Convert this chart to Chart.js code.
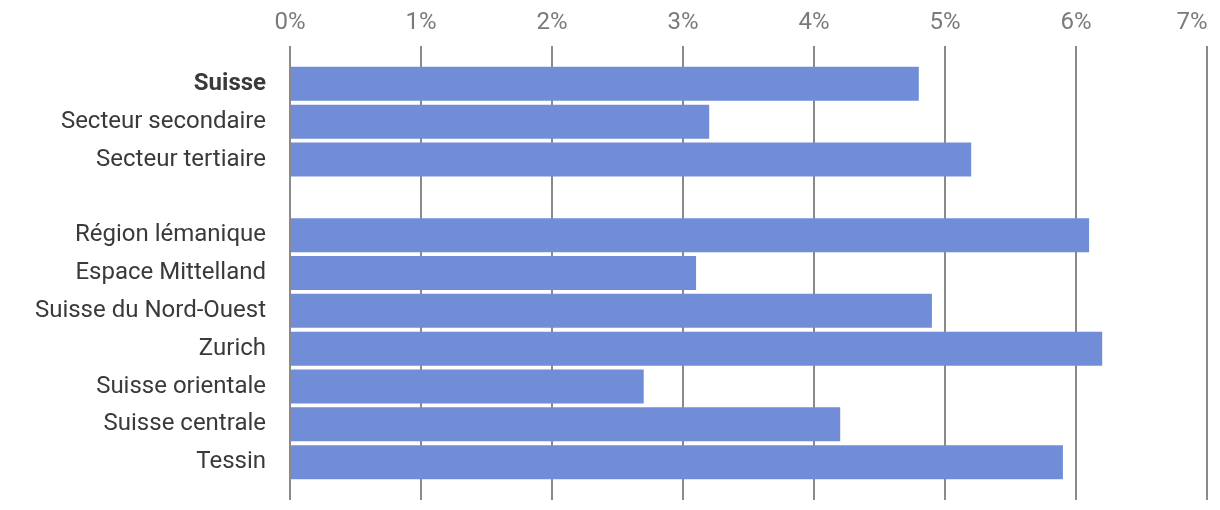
<!DOCTYPE html>
<html>
<head>
<meta charset="utf-8">
<script src="https://cdn.jsdelivr.net/npm/chart.js@4/dist/chart.umd.min.js"></script>
<style>
  html, body { margin: 0; padding: 0; background: #fff; }
  canvas { display: block; }
</style>
</head>
<body>
<canvas id="graphique" width="1220" height="510"></canvas>
<script>
const categories = ["Suisse", "Secteur secondaire", "Secteur tertiaire", "", "Région lémanique",
  "Espace Mittelland", "Suisse du Nord-Ouest", "Zurich", "Suisse orientale", "Suisse centrale", "Tessin"];
const valeurs = [4.8, 3.2, 5.2, null, 6.1, 3.1, 4.9, 6.2, 2.7, 4.2, 5.9];
const ticksX = [0, 1, 2, 3, 4, 5, 6, 7];

// une ligne vide en haut et en bas pour laisser de la marge dans la grille
const labels = ["", ...categories, ""];
const data = [null, ...valeurs, null];
const xMax = ticksX[ticksX.length - 1];

const config = {
    type: "bar",
    data: {
        labels: labels,
        datasets: [{
            data: data,
            backgroundColor: "#728dd7",
            barPercentage: 0.9,
            categoryPercentage: 1
        }]
    },
    options: {
        indexAxis: "y",
        responsive: false,
        animation: false,
        layout: { padding: { left: 0, right: 0, top: 0, bottom: 10 } },
        plugins: { legend: { display: false }, tooltip: { enabled: false } },
        scales: {
            x: {
                position: "top",
                min: ticksX[0],
                max: xMax,
                afterBuildTicks: (scale) => { scale.ticks = ticksX.map(v => ({ value: v })); },
                afterFit: (scale) => {
                    scale.height = 46;
                    scale.paddingLeft = 0;
                    scale.paddingRight = 13;
                },
                border: { display: false },
                grid: { color: "#8a8a8a", lineWidth: 2, drawTicks: false },
                ticks: {
                    padding: 9,
                    color: "#7a7a7a",
                    font: { family: "Roboto", size: 24 },
                    // le dernier libellé est décalé à gauche pour rester dans le cadre
                    callback: (v) => v === xMax ? v + "%     " : v + "%"
                }
            },
            y: {
                offset: false,
                afterFit: (scale) => {
                    scale.width = 290;
                    scale.paddingTop = 0;
                    scale.paddingBottom = 0;
                },
                border: { display: false },
                grid: { display: false },
                ticks: {
                    padding: 16,
                    autoSkip: false,
                    color: "#3a3a3a",
                    font: (ctx) => ({ family: "Roboto", size: 24, weight: ctx.index === 1 ? "bold" : "normal" })
                }
            }
        }
    }
};

new Chart(document.querySelector("#graphique"), config);
</script>
</body>
</html>
